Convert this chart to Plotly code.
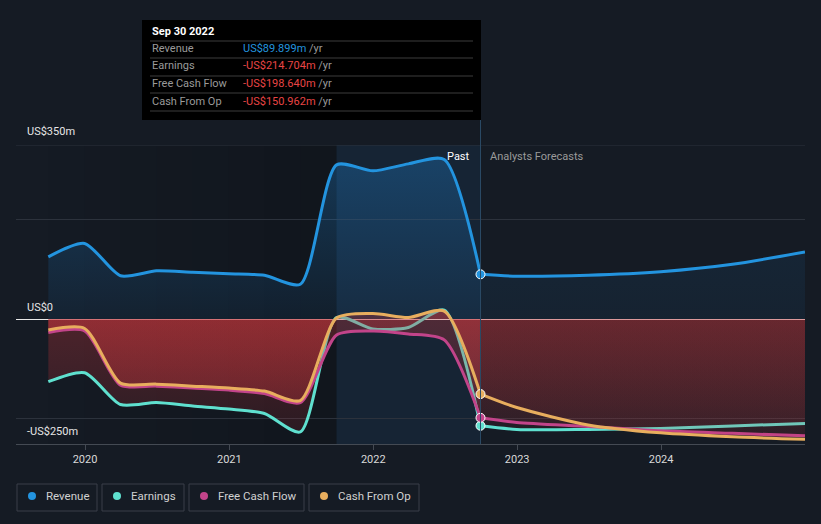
import plotly.graph_objects as go

# quarterly history (US$ m) and analyst forecasts
past_dates = ["2019-09-30", "2019-12-31", "2020-03-31", "2020-06-30", "2020-09-30",
              "2020-12-31", "2021-03-31", "2021-06-30", "2021-09-30", "2021-12-31",
              "2022-03-31", "2022-06-30", "2022-09-30"]
fc_dates = ["2022-09-30", "2022-12-31", "2023-06-30", "2023-12-31", "2024-06-30", "2024-12-31"]

revenue_past = [125, 152, 87, 97, 94, 91, 88, 70, 310, 298, 312, 321, 89.899]
earnings_past = [-126, -108, -172, -168, -175, -181, -190, -227, 3, -20, -17, 18, -214.704]
fcf_past = [-27, -24, -133, -135, -139, -143, -150, -168, -32, -24, -30, -42, -198.640]
cfo_past = [-22, -19, -129, -131, -135, -139, -145, -164, 2, 11, 3, 16, -150.962]

revenue_fc = [89.899, 86, 88, 95, 110, 135]
earnings_fc = [-214.704, -222, -222, -220, -215, -210]
fcf_fc = [-198.640, -208, -216, -225, -230, -235]
cfo_fc = [-150.962, -178, -213, -229, -237, -242]

series_names = ["Revenue", "Earnings", "Free Cash Flow", "Cash From Op"]
series_colors = ["#2394df", "#5fe0cf", "#c2448a", "#e8ae5e"]
tooltip_values = ["US$89.899m", "-US$214.704m", "-US$198.640m", "-US$150.962m"]
year_ticks = ["2020-01-01", "2021-01-01", "2022-01-01", "2023-01-01", "2024-01-01"]
year_labels = ["2020", "2021", "2022", "2023", "2024"]

BG = "#151b24"
W, H = 821, 524
L, R, T, B = 16, 805, 145, 444


def px(x):
    return (x - L) / (R - L)


def py(y):
    return (B - y) / (B - T)


def red_grad(a0, a1):
    return dict(type="vertical", start=-250, stop=0,
                colorscale=[[0, f"rgba(205,55,60,{a0})"], [1, f"rgba(205,55,60,{a1})"]])


def blue_grad(a0, a1):
    return dict(type="vertical", start=0, stop=350,
                colorscale=[[0, f"rgba(33,150,243,{a0})"], [1, f"rgba(33,150,243,{a1})"]])


fig = go.Figure()

past = [revenue_past, earnings_past, fcf_past, cfo_past]
fc = [revenue_fc, earnings_fc, fcf_fc, cfo_fc]

for i, name in enumerate(series_names):
    color = series_colors[i]
    grad_p = blue_grad(0.07, 0.28) if i == 0 else red_grad(0.12, 0.31)
    grad_f = blue_grad(0.06, 0.12) if i == 0 else red_grad(0.06, 0.18)
    fig.add_trace(go.Scatter(
        x=past_dates, y=past[i], mode="lines", name=name,
        line=dict(color=color, width=3, shape="spline", smoothing=0.7),
        fill="tozeroy", fillgradient=grad_p, showlegend=False, hoverinfo="skip"))
    fig.add_trace(go.Scatter(
        x=fc_dates, y=fc[i], mode="lines", name=name,
        line=dict(color=color, width=3, shape="spline", smoothing=0.7),
        fill="tozeroy", fillgradient=grad_f, showlegend=False, hoverinfo="skip"))

# markers at the latest reported point
for i in range(4):
    fig.add_trace(go.Scatter(
        x=[past_dates[-1]], y=[past[i][-1]], mode="markers",
        marker=dict(color=series_colors[i], size=9, line=dict(color="#ffffff", width=1)),
        showlegend=False, hoverinfo="skip"))

shapes = []
# darkening toward the highlighted year in the past area
steps = ["2019-09-30", "2019-12-31", "2020-03-31", "2020-06-30", "2020-09-30",
         "2020-12-31", "2021-03-31", "2021-06-30", "2021-09-30"]
for k in range(len(steps) - 1):
    shapes.append(dict(type="rect", xref="x", yref="paper", x0=steps[k], x1=steps[k + 1],
                       y0=0, y1=1, fillcolor=f"rgba(0,0,0,{0.022 * (k + 1):.3f})",
                       line=dict(width=0), layer="below"))
shapes.append(dict(type="rect", xref="x", yref="paper", x0="2021-09-30", x1="2022-09-30",
                   y0=0, y1=1, fillcolor="rgba(33,150,243,0.08)", line=dict(width=0),
                   layer="below"))
shapes.append(dict(type="line", xref="x", yref="paper", x0="2022-09-30", x1="2022-09-30",
                   y0=0, y1=py(120), line=dict(color="#2b4a66", width=1)))
# top gridline at US$350m
shapes.append(dict(type="line", xref="paper", yref="y", x0=0, x1=1, y0=350, y1=350,
                   line=dict(color="#2c323c", width=1), layer="below"))

# tooltip box
shapes.append(dict(type="rect", xref="paper", yref="paper", x0=px(142), x1=px(481),
                   y0=py(120), y1=py(20), fillcolor="#000000", line=dict(width=0)))
for ly in [41, 58, 76, 93, 111]:
    shapes.append(dict(type="line", xref="paper", yref="paper", x0=px(150), x1=px(473),
                       y0=py(ly), y1=py(ly), line=dict(color="#3c3c3c", width=1)))

annotations = []


def note(x, y, text, size=11, color="#ffffff", anchor="left"):
    annotations.append(dict(xref="paper", yref="paper", x=px(x), y=py(y), text=text,
                            showarrow=False, xanchor=anchor, yanchor="middle",
                            font=dict(size=size, color=color, family="Roboto")))


note(150, 31, "<b>Sep 30 2022</b>")
rows_y = [48, 66, 84, 101]
for i, name in enumerate(series_names):
    vcol = "#2394df" if i == 0 else "#e84545"
    note(150, rows_y[i], name, color="#9a9a9a")
    note(241, rows_y[i], f'<span style="color:{vcol}">{tooltip_values[i]}</span> /yr',
         color="#9a9a9a")

note(472, 156, "Past", anchor="right")
note(488, 156, "Analysts Forecasts", color="#9a9a9a")

note(25, 131, "US$350m", color="#e6e6e6")
note(25, 307, "US$0", color="#e6e6e6")
note(25, 431, "-US$250m", color="#e6e6e6")

# legend boxes
legend_boxes = [(17, 97), (102, 184), (189, 304), (309, 419)]
for i, name in enumerate(series_names):
    x0, x1 = legend_boxes[i]
    shapes.append(dict(type="rect", xref="paper", yref="paper", x0=px(x0), x1=px(x1),
                       y0=py(511), y1=py(484), line=dict(color="#3a3f48", width=1),
                       fillcolor="rgba(0,0,0,0)"))
    cx = x0 + 15
    shapes.append(dict(type="circle", xref="paper", yref="paper",
                       x0=px(cx - 4), x1=px(cx + 4), y0=py(500), y1=py(492),
                       fillcolor=series_colors[i], line=dict(width=0)))
    note(x0 + 27, 496, name, size=11.5, color="#d0d0d0")

fig.update_layout(
    width=W, height=H,
    margin=dict(l=L, r=W - R, t=T, b=H - B),
    paper_bgcolor=BG, plot_bgcolor=BG,
    font=dict(family="Roboto", color="#d0d0d0"),
    shapes=shapes, annotations=annotations,
    showlegend=False,
)
fig.update_xaxes(
    type="date", range=["2019-07-10", "2024-12-31"],
    tickvals=year_ticks, ticktext=year_labels,
    showgrid=False, zeroline=False,
    showline=True, linecolor="#444a53", linewidth=1,
    ticks="outside", ticklen=5, tickcolor="#444a53",
    tickfont=dict(size=11, color="#d9d9d9"),
)
fig.update_yaxes(
    range=[-251.4, 350], tickvals=[-200, 200], showticklabels=False,
    gridcolor="#2c323c", gridwidth=1,
    zeroline=True, zerolinecolor="#e8e8e8", zerolinewidth=1,
)

fig.write_html(
    "out.html",
    config={"displayModeBar": False},
    post_script="document.body.style.margin='0';document.body.style.overflow='hidden';",
)
